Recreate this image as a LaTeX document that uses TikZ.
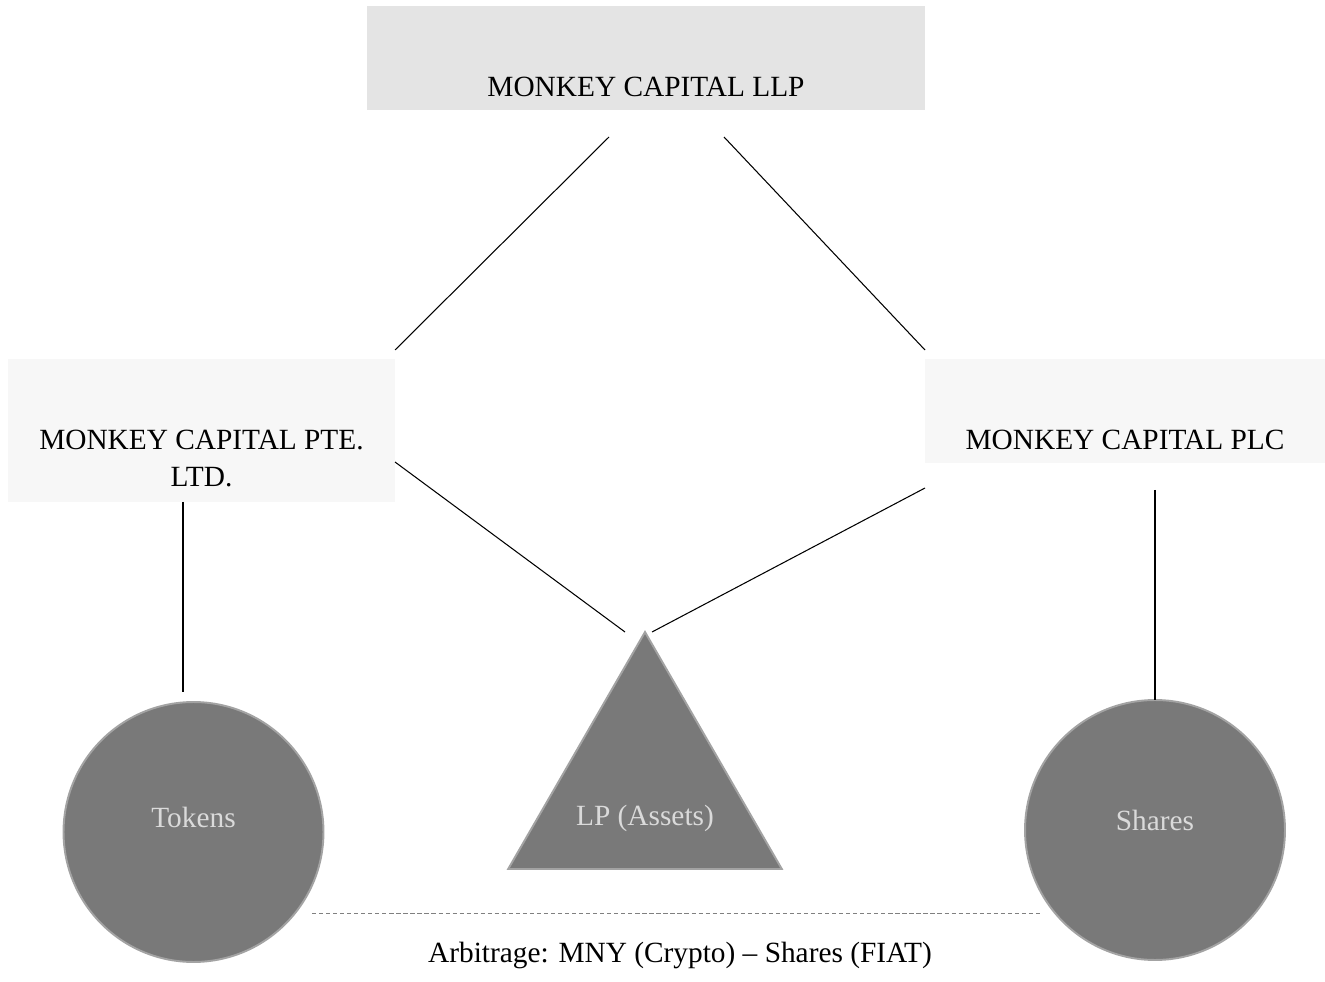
\documentclass[tikz,border=0pt]{standalone}
\usepackage{fontspec}
\setmainfont{Liberation Serif}
\usetikzlibrary{shapes.geometric,calc}
\definecolor{llpgray}{HTML}{E4E4E4}
\definecolor{subgray}{HTML}{F7F7F7}
\definecolor{assetgray}{HTML}{797979}
\definecolor{rimgray}{HTML}{A3A3A3}
\definecolor{labelgray}{HTML}{DADADA}
\begin{document}
\begin{tikzpicture}[x=0.02cm,y=-0.02cm,font=\fontsize{16.7}{21}\selectfont]
\tikzset{company/.style={inner sep=0pt,align=center,text depth=0.26cm,text height=1.82cm},
  asset/.style={fill=assetgray,draw=rimgray,line width=1.1pt,inner sep=0pt},
  assetlabel/.style={text=labelgray},
  link/.style={line width=0.6pt}}
\useasboundingbox (0,0) rectangle (1325,982);
\node[company,fill=llpgray,minimum width=11.16cm,anchor=south] (llp) at (646,110) {MONKEY CAPITAL LLP};
\node[company,fill=subgray,minimum width=7.74cm,anchor=south,text height=2.56cm,text depth=0.3cm] (pte) at (201.5,502) {MONKEY CAPITAL PTE.\\LTD.};
\node[company,fill=subgray,minimum width=8cm,anchor=south] (plc) at (1125,463) {MONKEY CAPITAL PLC};
\node[asset,circle,minimum size=5.2cm] (tokens) at (193.5,832) {};
\node[asset,regular polygon,regular polygon sides=3,minimum size=6.32cm] (lp) at (645,790) {};
\node[asset,circle,minimum size=5.2cm] (shares) at (1155,830) {};
\node[assetlabel] (tokenstext) at ($(tokens)+(0,-15)$) {Tokens};
\node[assetlabel] (lptext) at ($(lp)+(0,28)$) {LP (Assets)};
\node[assetlabel] (sharestext) at ($(shares)+(0,-10)$) {Shares};
\node (arb) at (680,955) {Arbitrage: MNY (Crypto) -- Shares (FIAT)};
% line ends
\coordinate (llpL) at (609,137);
\coordinate (llpR) at (724,137);
\coordinate (pteT) at (395,350);
\coordinate (plcT) at (925,350);
\coordinate (pteB) at (395,462);
\coordinate (plcB) at (925,488);
\coordinate (lpL) at (625,632);
\coordinate (lpR) at (652,632);
\coordinate (pteD) at (183,502);
\coordinate (tokU) at (183,692);
\coordinate (plcD) at (1155,490);
\coordinate (shaU) at (1155,700);
\coordinate (arbL) at (312,913);
\coordinate (arbR) at (1040,913);
\draw[link] (llpL) -- (pteT);
\draw[link] (llpR) -- (plcT);
\draw[link] (pteB) -- (lpL);
\draw[link] (plcB) -- (lpR);
\draw[link] (pteD) -- (tokU);
\draw[link] (plcD) -- (shaU);
\draw[gray,line width=0.5pt,dash pattern=on 2.4pt off 1.6pt] (arbL) -- (arbR);
\end{tikzpicture}
\end{document}
